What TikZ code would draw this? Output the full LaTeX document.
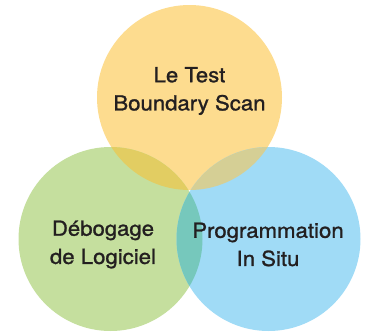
\documentclass[tikz,border=0pt]{standalone}
\usepackage{fontspec}
\setmainfont{TeX Gyre Heros}
\newfontfamily\vennfont[FakeBold=1.2, FakeStretch=1.07]{TeX Gyre Heros}
\usepackage{xcolor}
\usepackage{tikz}
\definecolor{vennYellow}{HTML}{FDDC8F}
\definecolor{vennGreen}{HTML}{C5DF9E}
\definecolor{vennBlue}{HTML}{A0DBF6}
\definecolor{vennYG}{HTML}{E2CD62}
\definecolor{vennYB}{HTML}{D5CF95}
\definecolor{vennGB}{HTML}{76C8BC}
\definecolor{vennText}{HTML}{231F20}

\begin{document}
\begin{tikzpicture}[x=1bp, y=-1bp,
    label/.style={text=vennText, align=center, font=\vennfont\fontsize{20.8}{28.3}\selectfont}]
    \useasboundingbox (0,0) rectangle (366,332);
    % the three circles
    \fill[vennYellow] (189.5,97.5) circle (92.5);
    \fill[vennGreen] (110.5,239) circle (92);
    \fill[vennBlue] (268.5,239) circle (92);
    % overlaps
    \begin{scope}
        \clip (189.5,97.5) circle (92.5);
        \fill[vennYG] (110.5,239) circle (92);
        \fill[vennYB] (268.5,239) circle (92);
    \end{scope}
    \begin{scope}
        \clip (110.5,239) circle (92);
        \fill[vennGB] (268.5,239) circle (92);
    \end{scope}
    % labels
    \node[label] (bscan) at (189.5,91) {Le Test\\Boundary Scan};
    \node[label] (debug) at (103,244.5) {Débogage\\de Logiciel};
    \node[label] (isp) at (268,244.5) {Programmation\\In Situ};
\end{tikzpicture}
\end{document}
